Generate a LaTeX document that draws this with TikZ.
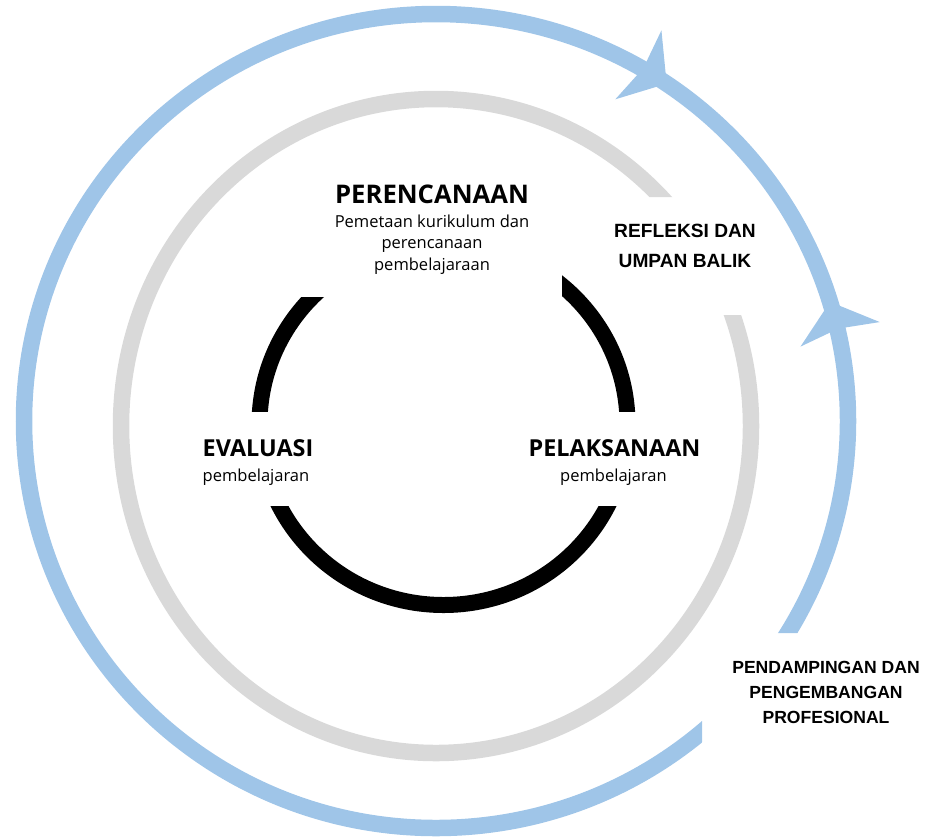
\documentclass[tikz,border=0pt]{standalone}
\usepackage{fontspec}
\setmainfont{Open Sans}
\newfontfamily\sidefont{Liberation Sans}
\usetikzlibrary{arrows.meta,decorations.markings}
\definecolor{ringblue}{HTML}{9FC5E8}
\definecolor{ringgray}{HTML}{D9D9D9}

\begin{document}
\begin{tikzpicture}[>={Stealth[length=6.8mm, width=16.6mm, inset=1.2mm, line width=0pt]},
	bluering/.style={draw, ringblue, line width=3.3mm},
	grayring/.style={draw, ringgray, line width=3.3mm},
	cyclering/.style={draw, black, line width=3.2mm},
	maintitle/.style={inner sep=0pt, anchor=base, font=\bfseries\fontsize{14.6}{17}\selectfont},
	stagetitle/.style={inner sep=0pt, anchor=base, font=\bfseries\fontsize{13.3}{15}\selectfont},
	stagesub/.style={inner sep=0pt, align=center, font=\fontsize{9.4}{12.2}\selectfont},
	sidelabel/.style={inner sep=0pt, anchor=north, align=center, font=\sidefont\bfseries\fontsize{10.9}{17.1}\selectfont}]
	\useasboundingbox (0,0) rectangle (18.8,-16.76);
	\coordinate (outer) at (8.72,-8.42);
	\coordinate (middle) at (8.72,-8.52);
	\coordinate (inner) at (8.87,-8.48);
	\begin{scope}
		\clip (0,0) rectangle (14.04,-16.76) (0,0) rectangle (18.8,-12.66);
		\draw[bluering, postaction={decorate, decoration={markings, mark=at position 0.047 with {\arrow{>}}, mark=at position 0.155 with {\arrowreversed{>}}}}] (outer) ellipse [x radius=8.24, y radius=8.14];
	\end{scope}
	\begin{scope}
		\clip (0,0) rectangle (12,-16.76) (0,0) rectangle (18.8,-3.94) (0,-6.3) rectangle (18.8,-16.76);
		\draw[grayring] (middle) ellipse [x radius=6.3, y radius=6.54];
	\end{scope}
	\begin{scope}
		\clip (0,-5.94) rectangle (8.87,-8.23);
		\draw[cyclering] (inner) ellipse [x radius=3.68, y radius=3.62];
	\end{scope}
	\begin{scope}
		\clip (11.24,-4) rectangle (18.8,-8.23);
		\draw[cyclering] (inner) ellipse [x radius=3.68, y radius=3.62];
	\end{scope}
	\begin{scope}
		\clip (0,-10.12) rectangle (18.8,-16.76);
		\draw[cyclering] (inner) ellipse [x radius=3.68, y radius=3.62];
	\end{scope}
	\node[maintitle] (perenc) at (8.64,-4.06) {PERENCANAAN};
	\node[stagesub, anchor=north] (perencsub) at (8.64,-4.29) {Pemetaan kurikulum dan\\ perencanaan\\ pembelajaraan};
	\node[stagetitle] (evaluasi) at (5.16,-9.12) {EVALUASI};
	\node[stagesub, anchor=base] (evaluasisub) at (5.12,-9.62) {pembelajaran};
	\node[stagetitle] (pelaks) at (12.29,-9.12) {PELAKSANAAN};
	\node[stagesub, anchor=base] (pelakssub) at (12.27,-9.62) {pembelajaran};
	\node[sidelabel] (refleksi) at (13.7,-4.47) {REFLEKSI DAN\\ UMPAN BALIK};
	\node[sidelabel, font=\sidefont\bfseries\fontsize{10}{14.2}\selectfont] (pendamp) at (16.52,-13.21) {PENDAMPINGAN DAN\\ PENGEMBANGAN\\ PROFESIONAL};
\end{tikzpicture}
\end{document}
